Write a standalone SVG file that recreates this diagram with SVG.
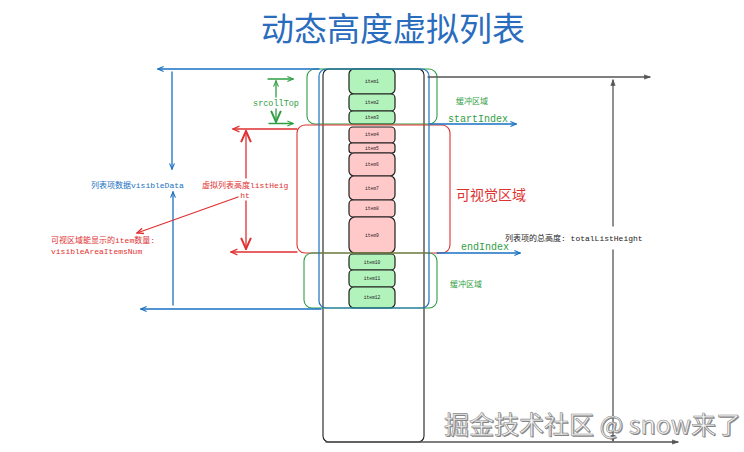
<svg xmlns="http://www.w3.org/2000/svg" width="744" height="452" viewBox="0 0 744 452">
<style>
.mono{font-family:"Liberation Mono","Noto Sans CJK SC",monospace;}
.cjk{font-family:"Noto Sans CJK SC","Noto Sans",sans-serif;}
.item{font-family:"Liberation Mono",monospace;font-size:4.6px;fill:#1e1e1e;text-anchor:middle;}
.g{fill:#b2f2bb;stroke:#1e1e1e;stroke-width:1.2;}
.r{fill:#ffc9c9;stroke:#1e1e1e;stroke-width:1.2;}
.ln{fill:none;stroke-width:1.3;stroke-linecap:round;}
.blue{stroke:#1971c2;}
.red{stroke:#e03131;}
.green{stroke:#2f9e44;}
.black{stroke:#1e1e1e;}
.gray{stroke:#555;}
</style>
<defs>
<marker id="ab" viewBox="0 0 10 10" refX="9" refY="5" markerWidth="7" markerHeight="7" orient="auto" markerUnits="userSpaceOnUse"><path d="M1,1.5 L9,5 L1,8.5" fill="none" stroke="#1971c2" stroke-width="1.6"/></marker>
<marker id="ar" viewBox="0 0 10 10" refX="9" refY="5" markerWidth="8" markerHeight="8" orient="auto" markerUnits="userSpaceOnUse"><path d="M1,1.5 L9,5 L1,8.5" fill="none" stroke="#e03131" stroke-width="1.6"/></marker>
<marker id="arB" viewBox="0 0 10 10" refX="9" refY="5" markerWidth="14" markerHeight="14" orient="auto" markerUnits="userSpaceOnUse"><path d="M1,1.5 L9,5 L1,8.5" fill="none" stroke="#e03131" stroke-width="1.4"/></marker>
<marker id="ag" viewBox="0 0 10 10" refX="9" refY="5" markerWidth="7" markerHeight="7" orient="auto" markerUnits="userSpaceOnUse"><path d="M1,1.5 L9,5 L1,8.5" fill="none" stroke="#2f9e44" stroke-width="1.6"/></marker>
<marker id="agB" viewBox="0 0 10 10" refX="9" refY="5" markerWidth="14" markerHeight="14" orient="auto" markerUnits="userSpaceOnUse"><path d="M1,1.5 L9,5 L1,8.5" fill="none" stroke="#2f9e44" stroke-width="1.4"/></marker>
<marker id="ak" viewBox="0 0 10 10" refX="9" refY="5" markerWidth="7" markerHeight="7" orient="auto" markerUnits="userSpaceOnUse"><path d="M1,2 L9,5 L1,8 Z" fill="#555" stroke="#555" stroke-width="1"/></marker>
</defs>

<text x="393" y="41" class="cjk" font-size="33" fill="#2a6cbd" text-anchor="middle">动态高度虚拟列表</text>

<g id="container">
<rect x="323" y="69" width="101" height="373" rx="6" fill="none" stroke="#1e1e1e" stroke-width="1.1"/>
</g>

<g id="items">
<g id="item1"><rect class="g" x="349" y="69" width="46" height="25" rx="5"/><text class="item" x="372" y="83">item1</text></g>
<g id="item2"><rect class="g" x="349" y="94" width="46" height="17" rx="4"/><text class="item" x="372" y="104">item2</text></g>
<g id="item3"><rect class="g" x="349" y="111" width="46" height="13" rx="4"/><text class="item" x="372" y="119">item3</text></g>
<g id="item4"><rect class="r" x="349" y="127" width="46" height="16" rx="4"/><text class="item" x="372" y="136">item4</text></g>
<g id="item5"><rect class="r" x="349" y="143" width="46" height="10" rx="3"/><text class="item" x="372" y="149.5">item5</text></g>
<g id="item6"><rect class="r" x="349" y="153" width="46" height="23" rx="5"/><text class="item" x="372" y="166">item6</text></g>
<g id="item7"><rect class="r" x="349" y="176" width="46" height="24" rx="5"/><text class="item" x="372" y="189.5">item7</text></g>
<g id="item8"><rect class="r" x="349" y="200" width="46" height="17" rx="4"/><text class="item" x="372" y="210">item8</text></g>
<g id="item9"><rect class="r" x="349" y="217" width="46" height="36" rx="6"/><text class="item" x="372" y="237">item9</text></g>
<g id="item10"><rect class="g" x="349" y="254" width="46" height="16" rx="4"/><text class="item" x="372" y="263.5">item10</text></g>
<g id="item11"><rect class="g" x="349" y="270" width="46" height="17" rx="4"/><text class="item" x="372" y="280">item11</text></g>
<g id="item12"><rect class="g" x="349" y="287" width="46" height="21" rx="5"/><text class="item" x="372" y="299">item12</text></g>
</g>

<g id="buffer-top">
<rect x="307" y="69" width="130" height="55" rx="8" fill="none" stroke="#2f9e44" stroke-width="1.1"/>
<text x="456" y="104" class="cjk" font-size="8" fill="#2f9e44">缓冲区域</text>
</g>
<g id="visible-area">
<rect x="297" y="125" width="153" height="128" rx="8" fill="none" stroke="#e03131" stroke-width="1.1"/>
<text x="456" y="200" class="cjk" font-size="14" fill="#e03131">可视觉区域</text>
</g>
<g id="buffer-bottom">
<rect x="304" y="253" width="133" height="55" rx="8" fill="none" stroke="#2f9e44" stroke-width="1.1"/>
<text x="450" y="287" class="cjk" font-size="8" fill="#2f9e44">缓冲区域</text>
</g>
<g id="visible-data">
<rect x="319" y="69" width="110" height="239" rx="7" fill="none" stroke="#1971c2" stroke-width="1.2"/>
</g>

<g id="connectors">
<line class="ln blue" x1="319" y1="69" x2="158" y2="69" marker-end="url(#ab)"/>
<line class="ln blue" x1="172" y1="72" x2="172" y2="169" marker-end="url(#ab)"/>
<line class="ln blue" x1="173" y1="305" x2="173" y2="192" marker-end="url(#ab)"/>
<line class="ln blue" x1="321" y1="309" x2="141" y2="309" marker-end="url(#ab)"/>
<line class="ln blue" x1="430" y1="124" x2="516" y2="124" marker-end="url(#ab)"/>
<line class="ln blue" x1="437" y1="253" x2="520" y2="253" marker-end="url(#ab)"/>
<line class="ln green" x1="268" y1="79" x2="293" y2="79" marker-end="url(#ag)"/>
<line class="ln green" x1="276" y1="97" x2="276" y2="81" marker-end="url(#ag)"/>
<line class="ln green" x1="276" y1="109" x2="276" y2="122" marker-end="url(#agB)"/>
<line class="ln green" x1="269" y1="123.5" x2="293" y2="123.5" marker-end="url(#ag)"/>
<line class="ln red" x1="297" y1="129" x2="233" y2="129" marker-end="url(#ar)"/>
<line class="ln red" x1="246" y1="178" x2="246" y2="131" marker-end="url(#arB)"/>
<line class="ln red" x1="246" y1="201" x2="246" y2="249" marker-end="url(#arB)"/>
<line class="ln red" x1="297" y1="252" x2="231" y2="252" marker-end="url(#ar)"/>
<line class="ln red" x1="238" y1="197" x2="137" y2="233" marker-end="url(#ar)"/>
<line class="ln gray" x1="428" y1="77" x2="650" y2="77" marker-end="url(#ak)"/>
<line class="ln gray" x1="613" y1="226" x2="613" y2="80" marker-end="url(#ak)"/>
<line class="ln gray" x1="613" y1="250" x2="613" y2="441" marker-end="url(#ak)"/>
<line class="ln gray" x1="326" y1="442" x2="678" y2="442" marker-end="url(#ak)"/>
</g>

<g id="labels">
<text x="276" y="106" class="mono" font-size="8.5" fill="#2f9e44" text-anchor="middle">srcollTop</text>
<text x="448" y="122" class="mono" font-size="10" fill="#2f9e44">startIndex</text>
<text x="461" y="250" class="mono" font-size="10" fill="#2f9e44">endIndex</text>
<text x="91" y="188" class="mono" font-size="8" fill="#1971c2">列表项数据visibleData</text>
<text x="202" y="188" class="mono" font-size="8" fill="#e03131">虚拟列表高度listHeig</text>
<text x="245" y="198" class="mono" font-size="8" fill="#e03131" text-anchor="middle">ht</text>
<text x="51" y="243" class="mono" font-size="8" fill="#e03131">可视区域能显示的item数量:</text>
<text x="51" y="254" class="mono" font-size="8" fill="#e03131">visibleAreaItemsNum</text>
<rect x="503" y="231" width="143" height="13" fill="#fff"/>
<text x="505" y="241" class="mono" font-size="8" fill="#1e1e1e">列表项的总高度: totalListHeight</text>
</g>

<g id="watermark">
<text x="444" y="434" class="cjk" font-size="25" fill="#666" opacity="0.8" transform="translate(1,1)">掘金技术社区 @ snow来了</text>
<text x="444" y="434" class="cjk" font-size="25" fill="#f4f4f4" stroke="#8a8a8a" stroke-width="0.6">掘金技术社区 @ snow来了</text>
</g>
</svg>
